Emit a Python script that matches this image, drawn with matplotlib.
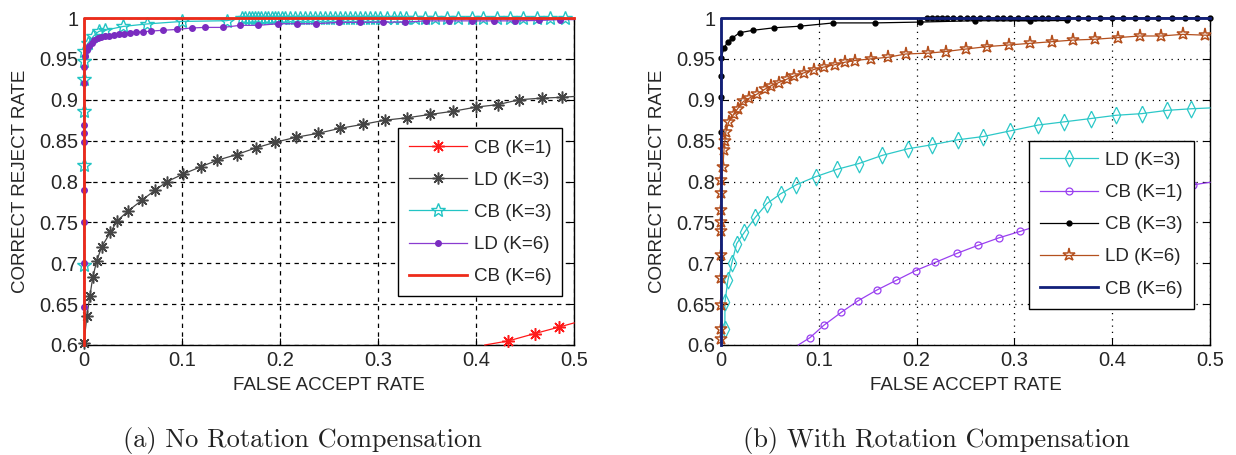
import matplotlib
matplotlib.use("Agg")
import matplotlib.pyplot as plt
from matplotlib.ticker import FuncFormatter

# ---------------- data: (a) No Rotation Compensation ----------------
a_cb1_x = [0.409, 0.433, 0.460, 0.485, 0.500]
a_cb1_y = [0.600, 0.605, 0.614, 0.622, 0.627]

a_ld3_x = [0.000, 0.003, 0.006, 0.009, 0.013, 0.018, 0.027, 0.034, 0.045, 0.059, 0.072,
           0.085, 0.101, 0.119, 0.136, 0.156, 0.175, 0.195, 0.216, 0.239, 0.261, 0.285,
           0.307, 0.330, 0.353, 0.377, 0.400, 0.422, 0.444, 0.467, 0.488, 0.500]
a_ld3_y = [0.603, 0.636, 0.660, 0.683, 0.703, 0.720, 0.738, 0.752, 0.764, 0.777, 0.789,
           0.800, 0.809, 0.818, 0.826, 0.833, 0.841, 0.848, 0.854, 0.859, 0.865, 0.870,
           0.875, 0.878, 0.882, 0.886, 0.891, 0.894, 0.900, 0.902, 0.903, 0.904]

a_cb3_x = [0.000, 0.000, 0.000, 0.000, 0.000, 0.000, 0.004, 0.0095, 0.015, 0.0215, 0.040,
           0.064, 0.100, 0.1456,
           0.161, 0.164, 0.168, 0.171, 0.174, 0.178, 0.181, 0.185, 0.188, 0.192, 0.195,
           0.198, 0.202, 0.205, 0.210, 0.215, 0.220, 0.226, 0.231, 0.236, 0.241, 0.246,
           0.251, 0.256, 0.261, 0.266, 0.271, 0.277, 0.282, 0.287, 0.292, 0.297, 0.302,
           0.309, 0.316, 0.322, 0.329, 0.338, 0.348, 0.358, 0.370, 0.382, 0.396, 0.407,
           0.421, 0.435, 0.448, 0.462, 0.476, 0.491]
a_cb3_y = [0.698, 0.8205, 0.886, 0.925, 0.947, 0.960, 0.969, 0.9775, 0.9836, 0.985, 0.9897,
           0.9927, 0.9958, 0.9967,
           1.000, 1.000, 1.000, 1.000, 1.000, 1.000, 1.000, 1.000, 1.000, 1.000, 1.000,
           1.000, 1.000, 1.000, 1.000, 1.000, 1.000, 1.000, 1.000, 1.000, 1.000, 1.000,
           1.000, 1.000, 1.000, 1.000, 1.000, 1.000, 1.000, 1.000, 1.000, 1.000, 1.000,
           1.000, 1.000, 1.000, 1.000, 1.000, 1.000, 1.000, 1.000, 1.000, 1.000, 1.000,
           1.000, 1.000, 1.000, 1.000, 1.000, 1.000]

a_ld6_x = [0.000, 0.000, 0.000, 0.000, 0.000, 0.000, 0.000, 0.000, 0.000, 0.001, 0.003,
           0.005, 0.008, 0.0105, 0.014, 0.017, 0.021, 0.026, 0.031, 0.036, 0.041, 0.047,
           0.053, 0.060, 0.068, 0.081, 0.0946, 0.110, 0.123, 0.142, 0.159, 0.178, 0.198,
           0.217, 0.237, 0.260, 0.282, 0.305, 0.328, 0.349, 0.372, 0.396, 0.418, 0.440,
           0.464, 0.486, 0.500]
a_ld6_y = [0.647, 0.700, 0.751, 0.790, 0.848, 0.859, 0.8695, 0.920, 0.940, 0.953, 0.961,
           0.966, 0.970, 0.9735, 0.975, 0.977, 0.978, 0.978, 0.979, 0.980, 0.981, 0.982,
           0.983, 0.983, 0.984, 0.985, 0.986, 0.9878, 0.9885, 0.9885, 0.991, 0.991, 0.993,
           0.993, 0.993, 0.9947, 0.9947, 0.995, 0.995, 0.9965, 0.9965, 0.9965, 0.9965,
           0.9965, 0.997, 0.998, 0.998]

a_cb6_x = [0.000, 0.000, 0.500]
a_cb6_y = [0.600, 1.000, 1.000]

# ---------------- data: (b) With Rotation Compensation ----------------
b_ld3_x = [0.004, 0.004, 0.007, 0.011, 0.016, 0.024, 0.035, 0.047, 0.061, 0.077, 0.097,
           0.119, 0.141, 0.165, 0.191, 0.216, 0.242, 0.268, 0.296, 0.324, 0.351, 0.378,
           0.404, 0.430, 0.456, 0.481, 0.500]
b_ld3_y = [0.620, 0.652, 0.679, 0.700, 0.724, 0.738, 0.756, 0.773, 0.785, 0.796, 0.806,
           0.815, 0.822, 0.832, 0.840, 0.845, 0.851, 0.855, 0.862, 0.869, 0.873, 0.877,
           0.881, 0.883, 0.887, 0.889, 0.890]

b_cb1_x = [0.079, 0.091, 0.105, 0.123, 0.140, 0.159, 0.179, 0.199, 0.219, 0.241, 0.263,
           0.284, 0.306, 0.327, 0.349, 0.371, 0.393, 0.415, 0.438, 0.461, 0.483, 0.500]
b_cb1_y = [0.600, 0.609, 0.624, 0.640, 0.654, 0.667, 0.679, 0.691, 0.701, 0.712, 0.722,
           0.731, 0.739, 0.747, 0.754, 0.761, 0.768, 0.775, 0.782, 0.789, 0.796, 0.799]

b_cb3_x = [0.000, 0.000, 0.000, 0.000, 0.000, 0.003, 0.007, 0.011, 0.019, 0.033, 0.054,
           0.081, 0.115, 0.157, 0.2035, 0.260, 0.316, 0.354,
           0.2103, 0.2154, 0.2205, 0.2257, 0.2308, 0.2376, 0.2444, 0.2512, 0.2580, 0.2648,
           0.2733, 0.2819, 0.2887, 0.2955, 0.3040, 0.3126, 0.3211, 0.3279, 0.3347, 0.3432,
           0.3551, 0.3654, 0.3756, 0.3875, 0.3995, 0.4114, 0.4233, 0.4353, 0.4472, 0.4608,
           0.4744, 0.4864, 0.5000]
b_cb3_y = [0.706, 0.861, 0.903, 0.929, 0.951, 0.963, 0.971, 0.975, 0.982, 0.985, 0.988,
           0.990, 0.994, 0.994, 0.995, 0.9967, 0.9965, 0.997,
           1.000, 1.000, 1.000, 1.000, 1.000, 1.000, 1.000, 1.000, 1.000, 1.000,
           1.000, 1.000, 1.000, 1.000, 1.000, 1.000, 1.000, 1.000, 1.000, 1.000,
           1.000, 1.000, 1.000, 1.000, 1.000, 1.000, 1.000, 1.000, 1.000, 1.000,
           1.000, 1.000, 1.000]

b_ld6_x = [0.000, 0.000, 0.000, 0.000, 0.000, 0.000, 0.000, 0.000, 0.000, 0.000, 0.002,
           0.003, 0.004, 0.005, 0.008, 0.013, 0.017, 0.023, 0.029, 0.037, 0.045, 0.051,
           0.059, 0.067, 0.075, 0.085, 0.095, 0.105, 0.117, 0.127, 0.137, 0.153, 0.171,
           0.189, 0.212, 0.230, 0.250, 0.272, 0.294, 0.316, 0.338, 0.360, 0.382, 0.406,
           0.428, 0.450, 0.472, 0.495, 0.500]
b_ld6_y = [0.607, 0.619, 0.649, 0.682, 0.7105, 0.740, 0.751, 0.7655, 0.786, 0.802, 0.818,
           0.838, 0.850, 0.861, 0.873, 0.882, 0.889, 0.898, 0.902, 0.907, 0.913, 0.917,
           0.921, 0.925, 0.929, 0.933, 0.937, 0.940, 0.943, 0.946, 0.948, 0.950, 0.952,
           0.956, 0.957, 0.959, 0.962, 0.965, 0.967, 0.969, 0.971, 0.973, 0.974, 0.976,
           0.978, 0.978, 0.980, 0.979, 0.979]

b_cb6_x = [0.000, 0.000, 0.500]
b_cb6_y = [0.600, 1.000, 1.000]

x_ticks = [0, 0.1, 0.2, 0.3, 0.4, 0.5]
y_ticks = [0.6, 0.65, 0.7, 0.75, 0.8, 0.85, 0.9, 0.95, 1.0]
x_label = "FALSE ACCEPT RATE"
y_label = "CORRECT REJECT RATE"
captions = ["(a) No Rotation Compensation", "(b) With Rotation Compensation"]

# ---------------- figure ----------------
plt.rcParams['font.family'] = ['Liberation Sans', 'DejaVu Sans']
FS = 13.5
TFS = 14.5
TXT = '#262626'
asterisk = (8, 2, 0)
narrow_diamond = [(0, 1), (0.5, 0), (0, -1), (-0.5, 0), (0, 1)]

fig = plt.figure(figsize=(12.36, 4.55), dpi=100)
ax1 = fig.add_axes([84 / 1236, 1 - 345 / 455, 490 / 1236, 327 / 455])
ax2 = fig.add_axes([721 / 1236, 1 - 345 / 455, 489 / 1236, 327 / 455])

fmt = FuncFormatter(lambda v, p: '%g' % v)


def style(ax, gridls):
    ax.set_xlim(0, 0.5)
    ax.set_ylim(0.6, 1.0)
    ax.set_xticks(x_ticks)
    ax.set_yticks(y_ticks)
    ax.xaxis.set_major_formatter(fmt)
    ax.yaxis.set_major_formatter(fmt)
    ax.tick_params(direction='in', length=5, width=0.8, top=True, right=True,
                   labelsize=TFS, labelcolor=TXT, pad=4)
    ax.grid(True, color='black', linestyle=gridls, linewidth=0.9)
    ax.set_axisbelow(True)
    for s in ax.spines.values():
        s.set_linewidth(1.0)
        s.set_color('black')
        s.set_zorder(1.5)
    ax.set_xlabel(x_label, fontsize=FS, color=TXT)
    ax.set_ylabel(y_label, fontsize=FS, color=TXT)
    ax.xaxis.set_label_coords(0.5, -0.097)
    ax.yaxis.set_label_coords(-0.112, 0.5)


style(ax1, (0, (3.5, 3.5)))
style(ax2, (0, (1, 4)))

# --- panel (a)
kw = dict(clip_on=False, linewidth=0.9)
ax1.plot(a_cb1_x, a_cb1_y, color='#ff1a1a', marker=asterisk, markersize=9,
         markeredgewidth=1.1, markevery=[1, 2, 3], label='CB (K=1)', zorder=3, **kw)
ax1.plot(a_ld3_x, a_ld3_y, color='#454545', marker=asterisk, markersize=8.5,
         markeredgewidth=1.1, markevery=list(range(len(a_ld3_x) - 1)),
         label='LD (K=3)', zorder=3, **kw)
ax1.plot(a_cb3_x, a_cb3_y, color='#22c4c4', marker='*', markersize=10,
         markerfacecolor='none', markeredgewidth=1.0, label='CB (K=3)', zorder=4, **kw)
ax1.plot(a_ld6_x, a_ld6_y, color='#8a3cd0', marker='.', markersize=8,
         markerfacecolor='#7a2cc0', markeredgecolor='#7a2cc0',
         markevery=list(range(len(a_ld6_x) - 1)), label='LD (K=6)', zorder=5, **kw)
ax1.plot(a_cb6_x, a_cb6_y, color='#ee2b1a', linewidth=2.0, label='CB (K=6)',
         clip_on=False, zorder=6)

# --- panel (b)
ax2.plot(b_ld3_x, b_ld3_y, color='#2cc8c8', marker=narrow_diamond, markersize=12,
         markerfacecolor='none', markeredgewidth=0.9,
         markevery=list(range(len(b_ld3_x) - 1)), label='LD (K=3)', zorder=3, **kw)
ax2.plot(b_cb1_x, b_cb1_y, color='#9a40f0', marker='o', markersize=5,
         markerfacecolor='none', markeredgewidth=0.9,
         markevery=list(range(1, len(b_cb1_x) - 1)), label='CB (K=1)', zorder=3, **kw)
ax2.plot(b_cb3_x, b_cb3_y, color='black', marker='.', markersize=7,
         label='CB (K=3)', zorder=4, **kw)
ax2.plot(b_ld6_x, b_ld6_y, color='#b4501e', marker='*', markersize=9.5,
         markerfacecolor='none', markeredgewidth=1.1,
         markevery=list(range(len(b_ld6_x) - 1)), label='LD (K=6)', zorder=4, **kw)
ax2.plot(b_cb6_x, b_cb6_y, color='#12207a', linewidth=2.0, label='CB (K=6)',
         clip_on=False, zorder=6)

for ax, anchor in ((ax1, (0.64, 0.6625)), (ax2, (0.63, 0.625))):
    leg = ax.legend(loc='upper left', bbox_to_anchor=anchor, borderaxespad=0,
                    fontsize=FS, frameon=True, fancybox=False, framealpha=1,
                    edgecolor='black', handlelength=3.1, handletextpad=0.35,
                    borderpad=0.6, labelspacing=0.8)
    leg.get_frame().set_linewidth(1.0)
    leg.set_zorder(10)
    for t in leg.get_texts():
        t.set_color(TXT)

fig.text(302 / 1236, 1 - 440 / 455, captions[0], family='cmr10', fontsize=19,
         ha='center', va='center', color='#222222')
fig.text(936 / 1236, 1 - 440 / 455, captions[1], family='cmr10', fontsize=19,
         ha='center', va='center', color='#222222')

fig.savefig('out.png', dpi=100)
